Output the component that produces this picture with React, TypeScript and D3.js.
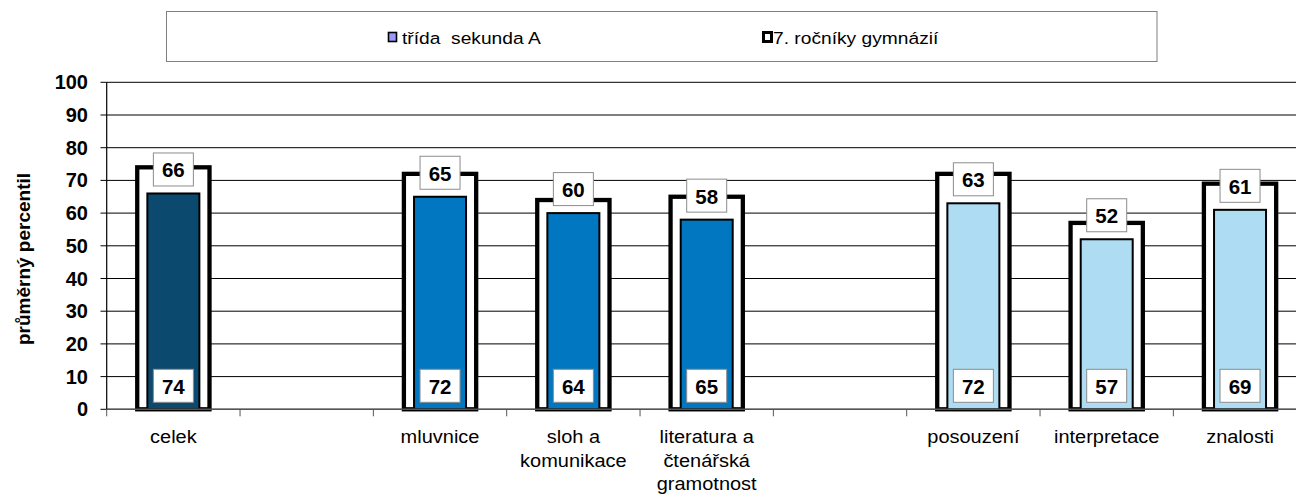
import React from 'react'
import * as d3 from 'd3'

// category labels split into lines, empty entries are the gaps between groups
const categoryLines = [
  ['celek'],
  [],
  ['mluvnice'],
  ['sloh a', 'komunikace'],
  ['literatura a', 'čtenářská', 'gramotnost'],
  [],
  ['posouzení'],
  ['interpretace'],
  ['znalosti'],
]
const tridaSekundaA = [66, null, 65, 60, 58, null, 63, 52, 61]
const rocnikyGymnazii = [74, null, 72, 64, 65, null, 72, 57, 69]
const yTicks = [0, 10, 20, 30, 40, 50, 60, 70, 80, 90, 100]
const seriesNames = ['třída  sekunda A', '7. ročníky gymnázií']

const barFill = ['#0B4A6E', null, '#0077C0', '#0077C0', '#0077C0', null, '#AEDCF2', '#AEDCF2', '#AEDCF2']
const font = '"Liberation Sans", Arial, Helvetica, sans-serif'

export default function App() {
  const width = 1296
  const height = 495
  const x = d3
    .scaleBand<string>()
    .domain(categoryLines.map((_, i) => String(i)))
    .range([106.7, 1306.7])
  const y = d3.scaleLinear().domain([0, 100]).range([409.3, 82.3])
  const bw = x.bandwidth()
  const y0 = y(0)

  return (
    <svg
      width={width}
      height={height}
      style={{ position: 'absolute', left: 0, top: 0, background: '#fff' }}
      fontFamily={font}
    >
      {/* legend */}
      <rect x={166.5} y={11.5} width={990.5} height={50} fill="#fff" stroke="#7f7f7f" strokeWidth={1} />
      <rect x={388.5} y={32.5} width={8} height={9} fill="#9999FF" stroke="#000" strokeWidth={1.6} />
      <text x={402} y={44} fontSize={17} transform="translate(402,0) scale(1.13,1) translate(-402,0)" style={{ whiteSpace: 'pre' }}>{seriesNames[0]}</text>
      <rect x={763.5} y={32.5} width={8} height={9} fill="#fff" stroke="#000" strokeWidth={3} />
      <text x={773} y={44} fontSize={17} transform="translate(773,0) scale(1.13,1) translate(-773,0)">{seriesNames[1]}</text>

      {/* gridlines */}
      {yTicks.map(t => (
        <line key={t} x1={106.7} x2={width} y1={y(t)} y2={y(t)} stroke="#000" strokeWidth={1} />
      ))}

      {/* outer bars: 7. ročníky gymnázií */}
      {rocnikyGymnazii.map((v, i) => {
        if (v == null) return null
        const w = bw * 0.542
        const cx = x(String(i))! + bw / 2
        return (
          <rect key={'o' + i} x={cx - w / 2} y={y(v)} width={w} height={y0 - y(v)}
            fill="#fff" stroke="#000" strokeWidth={4.3} />
        )
      })}

      {/* inner bars: třída sekunda A */}
      {tridaSekundaA.map((v, i) => {
        if (v == null) return null
        const w = bw * 0.39
        const cx = x(String(i))! + bw / 2
        return (
          <rect key={'i' + i} x={cx - w / 2} y={y(v)} width={w} height={y0 - y(v)}
            fill={barFill[i]!} stroke="#000" strokeWidth={2} />
        )
      })}

      {/* value labels */}
      {tridaSekundaA.map((v, i) => {
        if (v == null) return null
        const cx = x(String(i))! + bw / 2
        const cy = y(v) - 24
        return (
          <g key={'lt' + i}>
            <rect x={cx - 20} y={cy - 16.5} width={40} height={33} fill="#fff" stroke="#8c8c8c" strokeWidth={1} />
            <text x={cx} y={cy + 8} textAnchor="middle" fontSize={20.5} fontWeight="bold">{v}</text>
          </g>
        )
      })}
      {rocnikyGymnazii.map((v, i) => {
        if (v == null) return null
        const cx = x(String(i))! + bw / 2
        const cy = y0 - 23.5
        return (
          <g key={'lb' + i}>
            <rect x={cx - 20} y={cy - 16.5} width={40} height={33} fill="#fff" stroke="#8c8c8c" strokeWidth={1} />
            <text x={cx} y={cy + 8} textAnchor="middle" fontSize={20.5} fontWeight="bold">{v}</text>
          </g>
        )
      })}

      {/* y axis */}
      <line x1={106.7} x2={106.7} y1={y(100)} y2={y0} stroke="#000" strokeWidth={1.2} />
      {yTicks.map(t => (
        <g key={'yt' + t}>
          <line x1={100.5} x2={106.7} y1={y(t)} y2={y(t)} stroke="#000" strokeWidth={1} />
          <text x={88} y={y(t) + 7} textAnchor="end" fontSize={20} fontWeight="bold">{t}</text>
        </g>
      ))}
      <text transform="translate(30,259) rotate(-90)" textAnchor="middle" fontSize={19} fontWeight="bold">
        průměrný percentil
      </text>

      {/* x axis */}
      <line x1={106.7} x2={width} y1={y0} y2={y0} stroke="#555" strokeWidth={1.5} />
      {categoryLines.map((_, i) => (
        <line key={'xt' + i} x1={x(String(i))!} x2={x(String(i))!} y1={y0} y2={y0 + 7} stroke="#555" strokeWidth={1} />
      ))}
      {categoryLines.map((lines, i) => {
        const cx = x(String(i))! + bw / 2
        return (
          <text key={'xl' + i} x={cx} y={y0 + 34} textAnchor="middle" fontSize={18.5}
            transform={`translate(${cx},0) scale(1.08,1) translate(${-cx},0)`}>
            {lines.map((l, j) => (
              <tspan key={j} x={cx} dy={j === 0 ? 0 : 23.3}>{l}</tspan>
            ))}
          </text>
        )
      })}
    </svg>
  )
}
